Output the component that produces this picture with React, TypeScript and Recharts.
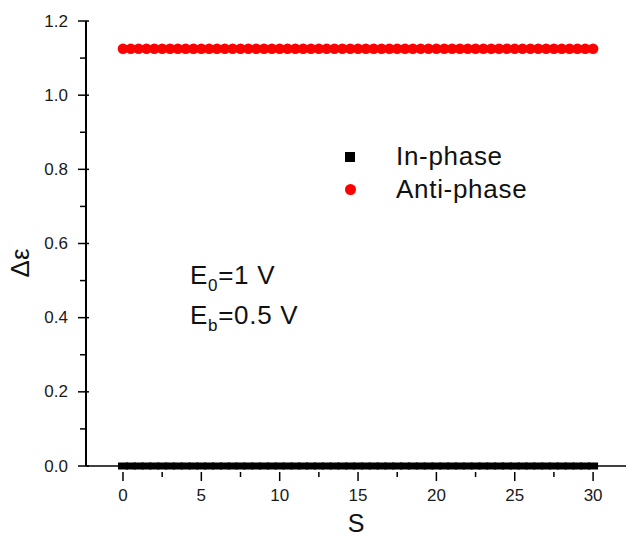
import React from "react";
import { Legend, Scatter, ScatterChart, XAxis, YAxis } from "recharts";

// S values (step 0.5 from 0 to 30)
const sValues = [
  0, 0.5, 1, 1.5, 2, 2.5, 3, 3.5, 4, 4.5, 5, 5.5, 6, 6.5, 7, 7.5, 8, 8.5, 9, 9.5,
  10, 10.5, 11, 11.5, 12, 12.5, 13, 13.5, 14, 14.5, 15, 15.5, 16, 16.5, 17, 17.5,
  18, 18.5, 19, 19.5, 20, 20.5, 21, 21.5, 22, 22.5, 23, 23.5, 24, 24.5, 25, 25.5,
  26, 26.5, 27, 27.5, 28, 28.5, 29, 29.5, 30
];

const inPhase = [
  0, 0, 0, 0, 0, 0, 0, 0, 0, 0, 0, 0, 0, 0, 0, 0, 0, 0, 0, 0,
  0, 0, 0, 0, 0, 0, 0, 0, 0, 0, 0, 0, 0, 0, 0, 0, 0, 0, 0, 0,
  0, 0, 0, 0, 0, 0, 0, 0, 0, 0, 0, 0, 0, 0, 0, 0, 0, 0, 0, 0, 0
];

const antiPhase = [
  1.125, 1.125, 1.125, 1.125, 1.125, 1.125, 1.125, 1.125, 1.125, 1.125,
  1.125, 1.125, 1.125, 1.125, 1.125, 1.125, 1.125, 1.125, 1.125, 1.125,
  1.125, 1.125, 1.125, 1.125, 1.125, 1.125, 1.125, 1.125, 1.125, 1.125,
  1.125, 1.125, 1.125, 1.125, 1.125, 1.125, 1.125, 1.125, 1.125, 1.125,
  1.125, 1.125, 1.125, 1.125, 1.125, 1.125, 1.125, 1.125, 1.125, 1.125,
  1.125, 1.125, 1.125, 1.125, 1.125, 1.125, 1.125, 1.125, 1.125, 1.125,
  1.125
];

const xTicks = [0, 2.5, 5, 7.5, 10, 12.5, 15, 17.5, 20, 22.5, 25, 27.5, 30];
const yTicks = [0, 0.1, 0.2, 0.3, 0.4, 0.5, 0.6, 0.7, 0.8, 0.9, 1.0, 1.1, 1.2];

const inPhaseData = sValues.map((s, i) => ({ s, v: inPhase[i] }));
const antiPhaseData = sValues.map((s, i) => ({ s, v: antiPhase[i] }));

const FONT = '"Liberation Sans", Arial, sans-serif';

const XTick = ({ x, y, payload }: any) => {
  const v = payload.value;
  const major = v % 5 === 0;
  return (
    <g>
      <line x1={x} x2={x} y1={y} y2={y + (major ? 9 : 5)} stroke="#000" strokeWidth={1.5} />
      {major && (
        <text x={x} y={y + 23} textAnchor="middle" dominantBaseline="central" fontSize={17} fill="#1a1a1a" fontFamily={FONT}>
          {v}
        </text>
      )}
    </g>
  );
};

const YTick = ({ x, y, payload }: any) => {
  const v = payload.value;
  const major = Math.round(v * 10) % 2 === 0;
  return (
    <g>
      <line x1={major ? x - 2 : x} x2={x + (major ? 9 : 5)} y1={y} y2={y} stroke="#000" strokeWidth={1.5} />
      {major && (
        <text x={x - 12} y={y} textAnchor="end" dominantBaseline="central" fontSize={17} fill="#1a1a1a" fontFamily={FONT}>
          {v.toFixed(1)}
        </text>
      )}
    </g>
  );
};

const squareShape = (props: any) => (
  <rect x={props.cx - 5} y={props.cy - 3.5} width={10} height={7} fill="#000" />
);

const circleShape = (props: any) => (
  <circle cx={props.cx} cy={props.cy} r={5.3} fill="#ff0000" />
);

const renderLegend = () => (
  <div style={{ fontFamily: FONT, fontSize: 26, letterSpacing: 0.7, lineHeight: "33px", color: "#111" }}>
    <div style={{ display: "flex", alignItems: "center" }}>
      <div style={{ width: 24, display: "flex", justifyContent: "center" }}>
        <div style={{ width: 10, height: 10, background: "#000" }} />
      </div>
      <span style={{ marginLeft: 34 }}>In-phase</span>
    </div>
    <div style={{ display: "flex", alignItems: "center" }}>
      <div style={{ width: 24, display: "flex", justifyContent: "center" }}>
        <div style={{ width: 11, height: 11, borderRadius: "50%", background: "#ff0000" }} />
      </div>
      <span style={{ marginLeft: 34 }}>Anti-phase</span>
    </div>
  </div>
);

export default function App() {
  return (
    <div style={{ position: "absolute", left: 0, top: 0, width: 627, height: 537, background: "#fff", fontFamily: FONT }}>
      <ScatterChart width={627} height={537} margin={{ top: 21, right: 1, bottom: 11, left: 26 }}>
        <XAxis
          type="number"
          dataKey="s"
          domain={[-2.36, 32.1]}
          ticks={xTicks}
          interval={0}
          height={60}
          tickLine={false}
          tickMargin={0}
          tick={<XTick />}
          axisLine={{ stroke: "#000", strokeWidth: 1.5 }}
          label={{
            content: ({ viewBox }: any) => (
              <text x={viewBox.x + viewBox.width / 2} y={viewBox.y + 57} textAnchor="middle" dominantBaseline="central" fontSize={25} fill="#111" fontFamily={FONT}>
                S
              </text>
            )
          }}
        />
        <YAxis
          type="number"
          dataKey="v"
          domain={[0, 1.2]}
          ticks={yTicks}
          interval={0}
          width={60}
          tickLine={false}
          tickMargin={0}
          tick={<YTick />}
          axisLine={{ stroke: "#000", strokeWidth: 2 }}
          label={{
            content: () => (
              <text x={20} y={263} transform="rotate(-90 20 263)" textAnchor="middle" dominantBaseline="central" fontSize={26} fill="#111" fontFamily={FONT}>
                Δε
              </text>
            )
          }}
        />
        <Legend
          content={renderLegend}
          layout="vertical"
          align="center"
          verticalAlign="middle"
          wrapperStyle={{ top: 140, left: 338, width: 270 }}
        />
        <Scatter name="In-phase" data={inPhaseData} shape={squareShape} isAnimationActive={false} />
        <Scatter name="Anti-phase" data={antiPhaseData} shape={circleShape} isAnimationActive={false} />
      </ScatterChart>
      <div style={{ position: "absolute", left: 190, top: 257, fontSize: 26, letterSpacing: 0.7, lineHeight: "36px", color: "#111", whiteSpace: "nowrap" }}>
        <div>
          E<span style={{ fontSize: 17, position: "relative", top: 7 }}>0</span>=1 V
        </div>
        <div>
          E<span style={{ fontSize: 17, position: "relative", top: 7 }}>b</span>=0.5 V
        </div>
      </div>
    </div>
  );
}
